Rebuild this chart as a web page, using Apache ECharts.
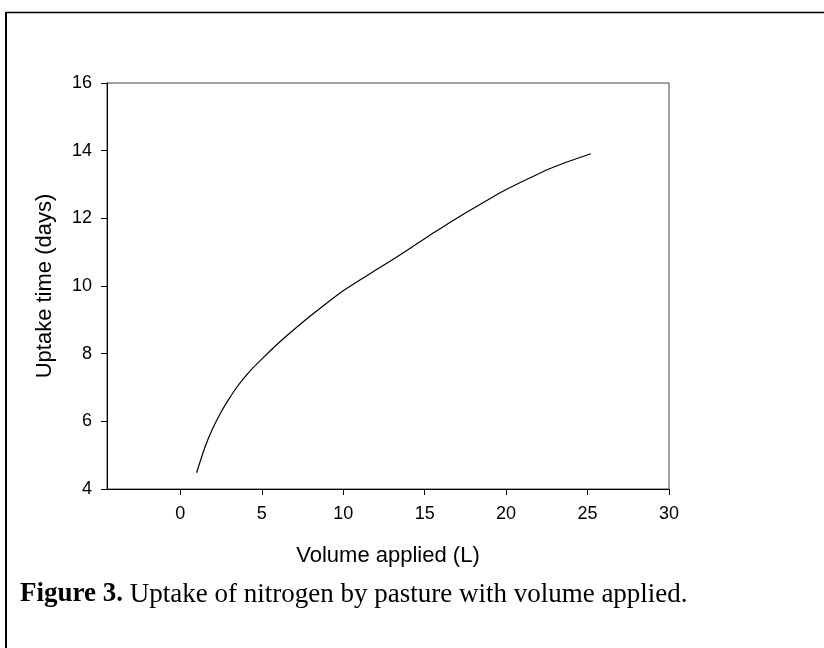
<!DOCTYPE html>
<html>
<head>
<meta charset="utf-8">
<script src="https://cdn.jsdelivr.net/npm/echarts@6/dist/echarts.min.js"></script>
<style>
  html, body { margin: 0; padding: 0; background: #fff; }
  #chart { width: 824px; height: 648px; }
</style>
</head>
<body>
<div id="chart"></div>
<script>
// 曲线数据 (体积 L -> 吸收天数)
const volumeValues = [1, 1.5, 2, 2.5, 3, 3.5, 4, 4.5, 5, 6, 7, 8, 9, 10, 11, 12, 13, 14, 15, 16, 17, 18, 19, 20, 21, 22, 23, 24, 25.2]
const uptakeValues = [4.48, 5.22, 5.80, 6.27, 6.67, 7.03, 7.33, 7.60, 7.84, 8.30, 8.72, 9.12, 9.50, 9.86, 10.17, 10.47, 10.77, 11.08, 11.40, 11.71, 12.01, 12.30, 12.58, 12.85, 13.09, 13.32, 13.53, 13.71, 13.91]
const xTickValues = [0, 5, 10, 15, 20, 25, 30]

const axisFont = 'Liberation Sans, Arial, sans-serif'
const captionFont = 'Liberation Serif, Times New Roman, serif'

const chart = echarts.init(document.getElementById('chart'))
chart.setOption({
  animation: false,
  backgroundColor: '#fff',
  grid: {
    left: 107,
    right: 155,
    top: 83,
    bottom: 159,
    show: true,
    borderColor: '#444',
    borderWidth: 1
  },
  xAxis: {
    type: 'value',
    min: -4.5,
    max: 30,
    name: 'Volume applied (L)',
    nameLocation: 'middle',
    nameGap: 56,
    nameTextStyle: { fontFamily: axisFont, fontSize: 22, color: '#000' },
    axisLine: { onZero: false, lineStyle: { color: '#000', width: 1 } },
    axisTick: { show: true, length: 6, customValues: xTickValues, lineStyle: { color: '#000' } },
    axisLabel: { customValues: xTickValues, margin: 16, fontFamily: axisFont, fontSize: 18, color: '#000' },
    splitLine: { show: false }
  },
  yAxis: {
    type: 'value',
    min: 4,
    max: 16,
    interval: 2,
    name: 'Uptake time (days)',
    nameLocation: 'middle',
    nameGap: 51,
    nameTextStyle: { fontFamily: axisFont, fontSize: 22, color: '#000' },
    axisLine: { show: true, onZero: false, lineStyle: { color: '#000', width: 1 } },
    axisTick: { show: true, length: 6, lineStyle: { color: '#000' } },
    axisLabel: { margin: 15, fontFamily: axisFont, fontSize: 18, color: '#000' },
    splitLine: { show: false }
  },
  series: [
    {
      type: 'line',
      data: volumeValues.map((v, i) => [v, uptakeValues[i]]),
      showSymbol: false,
      smooth: 0.2,
      lineStyle: { color: '#000', width: 1.2 }
    }
  ],
  graphic: [
    // 外框 (左、上)
    { type: 'line', shape: { x1: 6, y1: 12, x2: 6, y2: 648 }, style: { stroke: '#000', lineWidth: 2 } },
    { type: 'line', shape: { x1: 5, y1: 12.5, x2: 824, y2: 12.5 }, style: { stroke: '#000', lineWidth: 1.5 } },
    // 图注
    {
      type: 'text',
      left: 20,
      top: 581,
      style: {
        text: '{b|Figure 3.} Uptake of nitrogen by pasture with volume applied.',
        font: '27px ' + captionFont,
        fill: '#000',
        rich: {
          b: { fontFamily: captionFont, fontSize: 27, fontWeight: 'bold', fill: '#000' }
        }
      }
    }
  ]
})
</script>
</body>
</html>
